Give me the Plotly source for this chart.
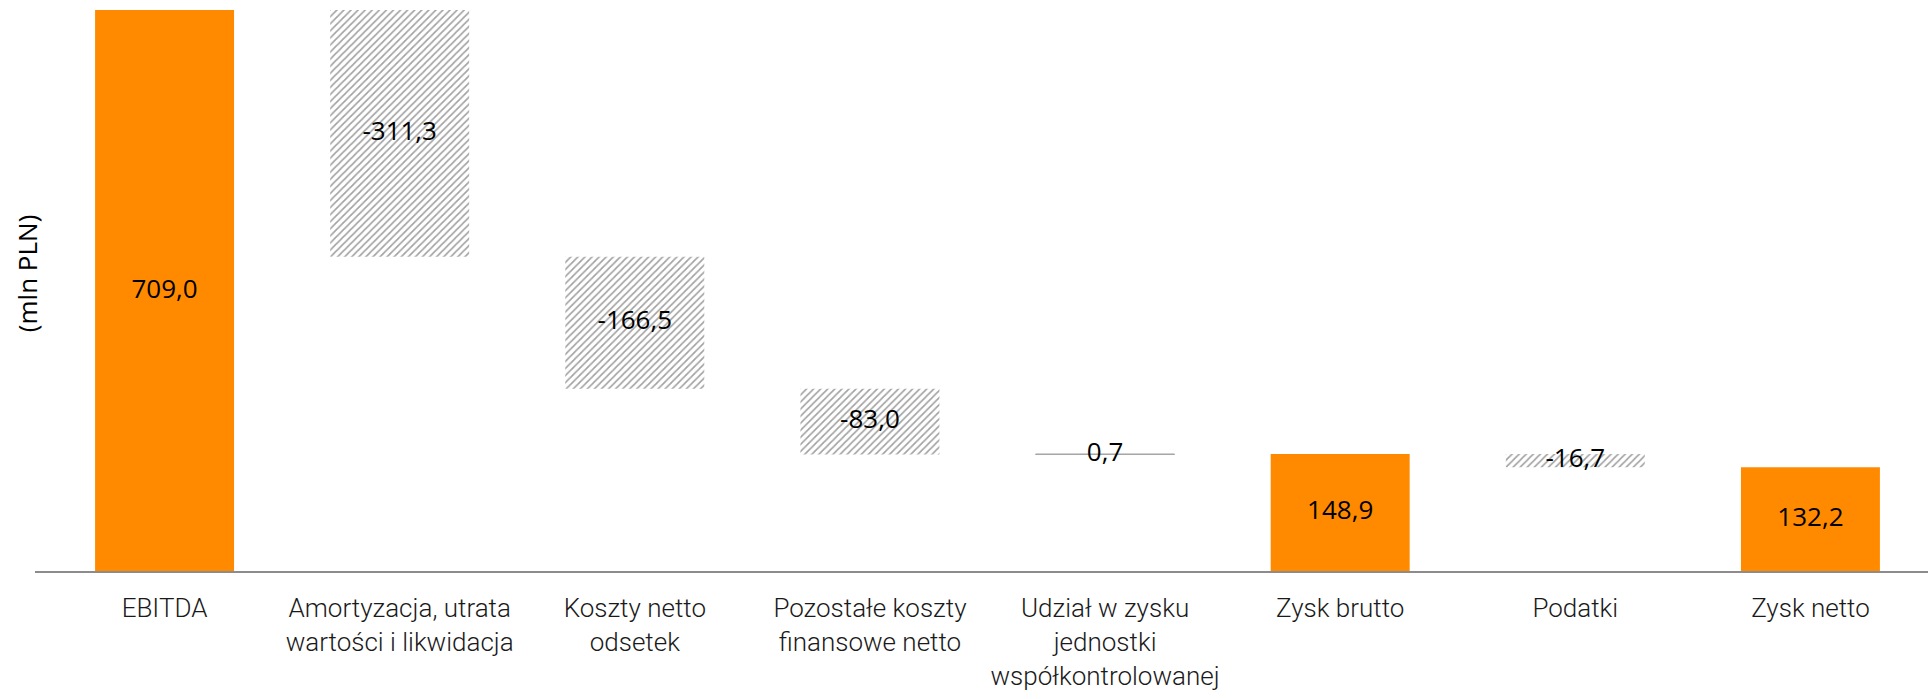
import plotly.graph_objects as go

# Rachunek wyników: od EBITDA do zysku netto (mln PLN)
categories = ["EBITDA", "Amortyzacja", "Odsetki", "Pozostale", "Udzial", "ZyskBrutto", "Podatki", "ZyskNetto"]
tick_labels = [
    "EBITDA",
    "Amortyzacja, utrata<br>wartości i likwidacja",
    "Koszty netto<br>odsetek",
    "Pozostałe koszty<br>finansowe netto",
    "Udział w zysku<br>jednostki<br>współkontrolowanej",
    "Zysk brutto",
    "Podatki",
    "Zysk netto",
]
values = [709.0, -311.3, -166.5, -83.0, 0.7, 148.9, -16.7, 132.2]
measures = ["total", "relative", "relative", "relative", "relative", "total", "relative", "total"]

ORANGE = "#FF8A00"
HATCH = "#BBBBBB"
LABEL_FONT = "Roboto"
VALUE_FONT = "Open Sans"

# pozycje słupków kaskadowych
bases, running = [], 0.0
for v, m in zip(values, measures):
    if m == "total":
        bases.append(0.0)
        running = v
    else:
        bases.append(running)
        running += v

colors = [ORANGE if m == "total" else "white" for m in measures]
shapes = ["" if m == "total" else "/" for m in measures]
line_w = [1 if (m == "relative" and abs(v) < 2) else 0 for v, m in zip(values, measures)]

fig = go.Figure()
fig.add_trace(go.Bar(
    x=categories, y=values, base=bases,
    marker=dict(
        color=colors,
        pattern=dict(shape=shapes, fgcolor=HATCH, bgcolor="white", size=5, solidity=0.33),
        line=dict(color="#A6A6A6", width=line_w),
    ),
    hoverinfo="skip",
    showlegend=False,
))

label_text = [f"{v:.1f}".replace(".", ",") for v in values]
label_y = [b + v / 2 for b, v in zip(bases, values)]
fig.add_trace(go.Scatter(
    x=categories, y=label_y, text=label_text, mode="text",
    textposition="middle center",
    textfont=dict(family=VALUE_FONT, size=26, color="#000000"),
    cliponaxis=False, hoverinfo="skip", showlegend=False,
))

fig.update_layout(
    width=1928, height=699,
    margin=dict(l=47, r=0, t=10, b=127),
    paper_bgcolor="white", plot_bgcolor="white",
    bargap=0.409,
    xaxis=dict(
        tickmode="array", tickvals=categories, ticktext=tick_labels,
        tickfont=dict(family=LABEL_FONT, size=26, color="#1a1a1a", weight=300),
        showline=False, showgrid=False, ticks="", zeroline=False,
        ticklabelstandoff=18,
    ),
    yaxis=dict(range=[0, 709], visible=False),
    shapes=[dict(
        type="line", xref="paper", yref="paper",
        x0=-12 / 1881, x1=1.0, y0=0, y1=0,
        line=dict(color="#8C8C8C", width=2), layer="above",
    )],
    annotations=[dict(
        text="(mln PLN)", xref="paper", yref="paper",
        x=-20 / 1881, y=0.53, xanchor="center", yanchor="middle",
        textangle=-90, showarrow=False,
        font=dict(family=VALUE_FONT, size=26, color="#000000"),
    )],
)

fig.write_html("out.html")
